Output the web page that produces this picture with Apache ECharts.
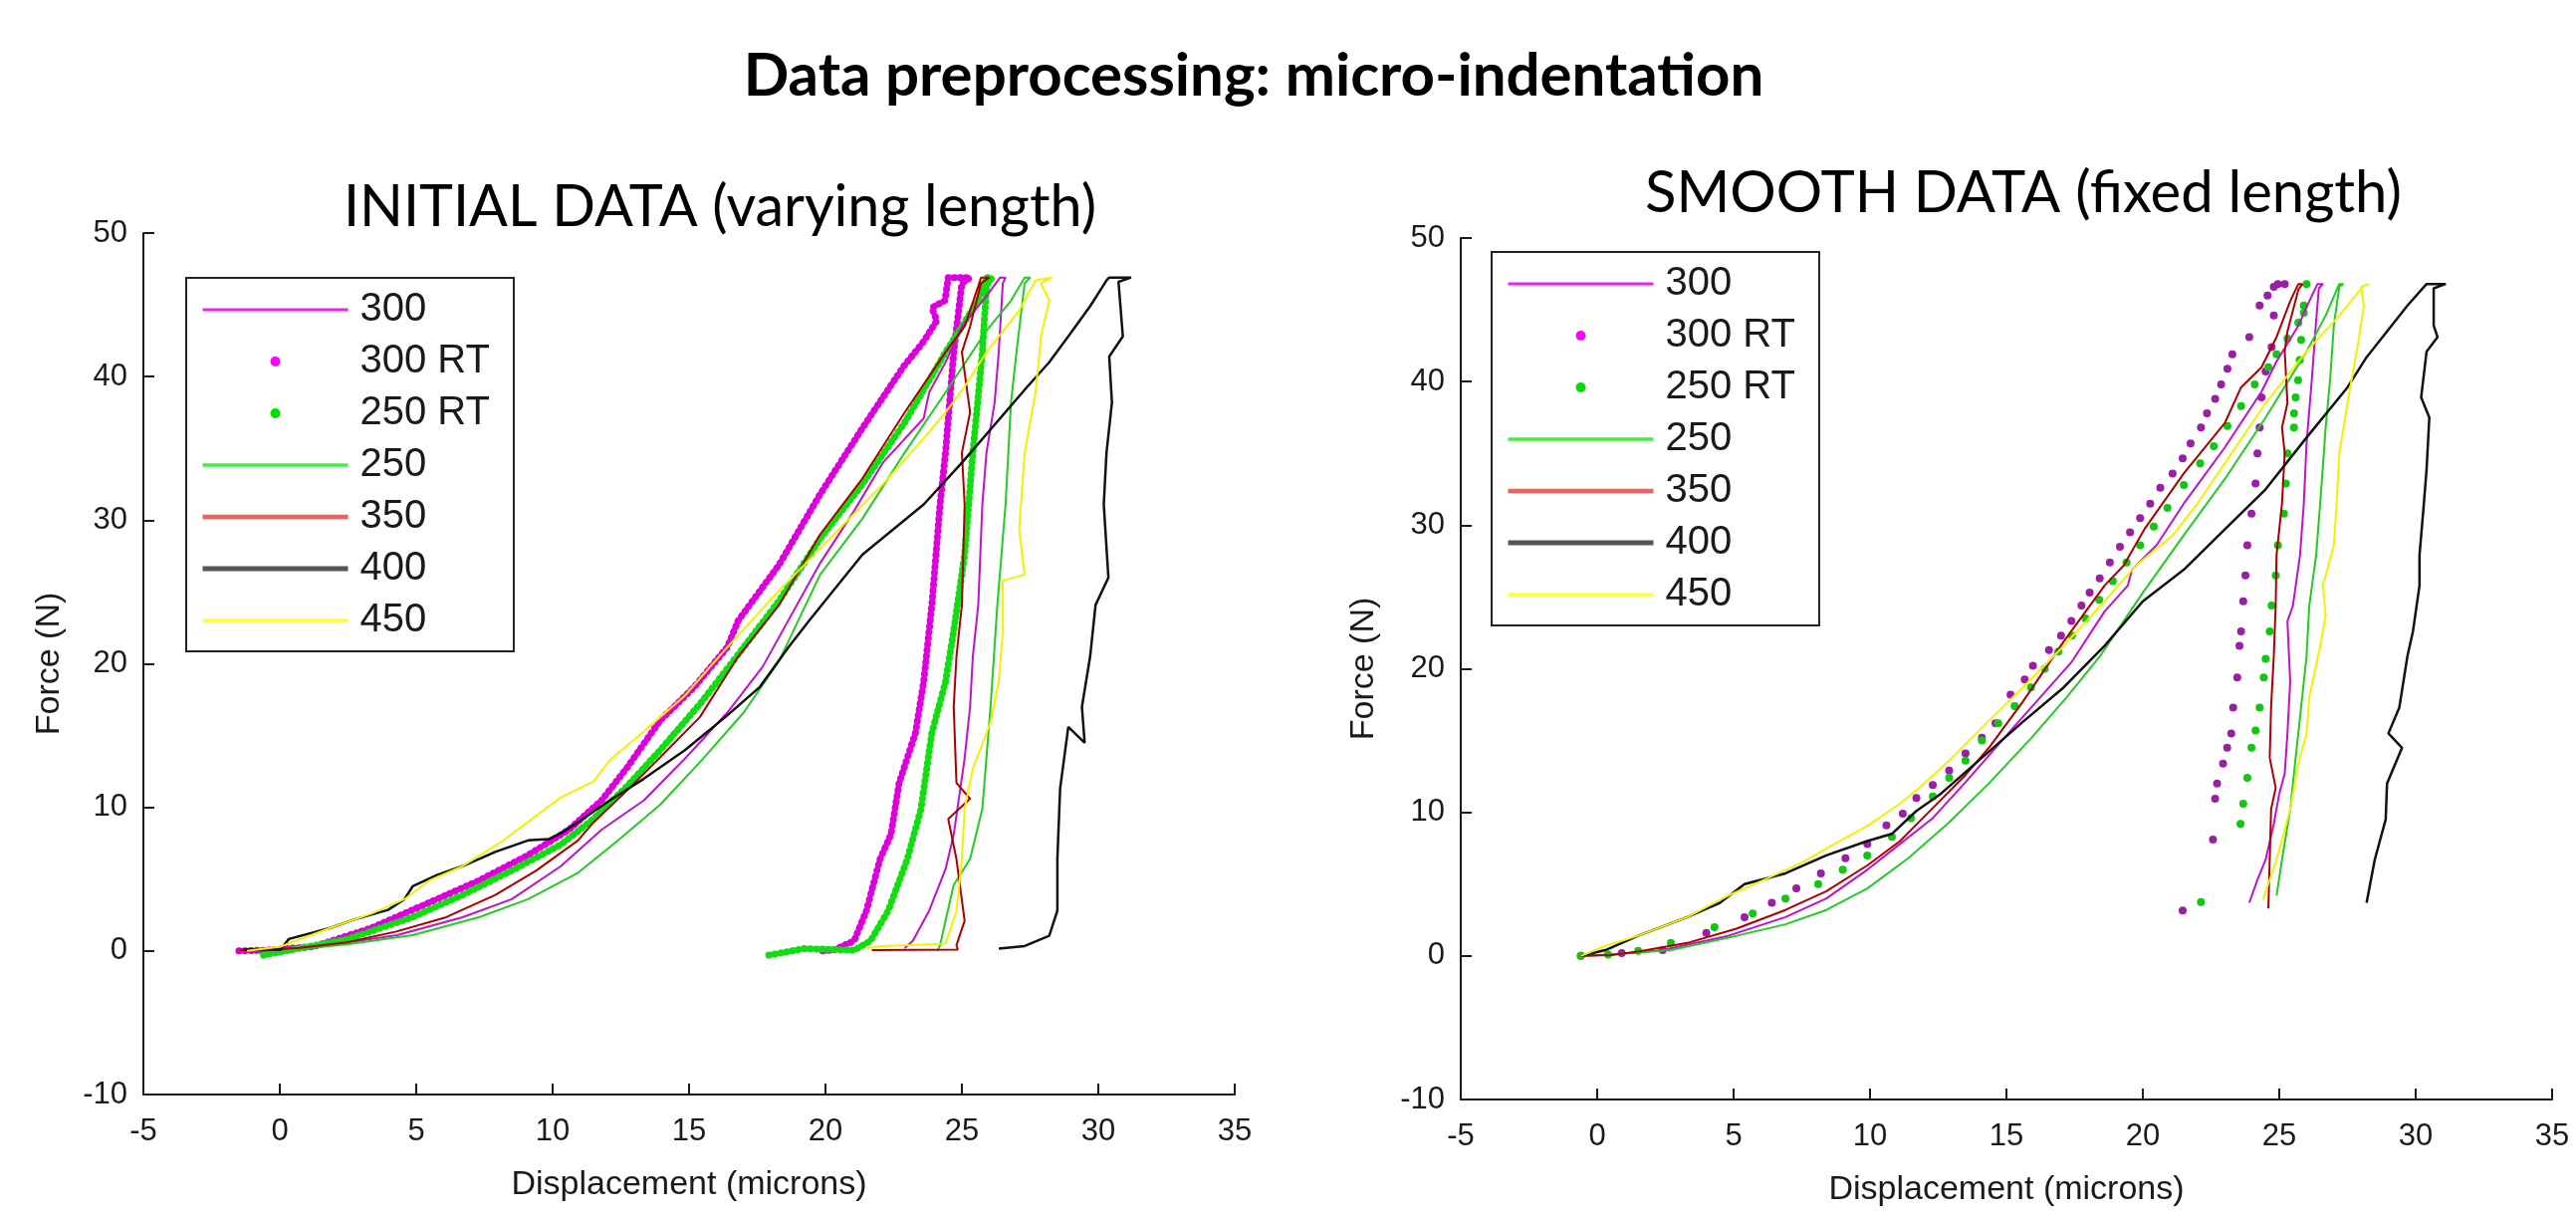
<!DOCTYPE html>
<html><head><meta charset="utf-8">
<script src="https://cdn.jsdelivr.net/npm/echarts@6/dist/echarts.min.js"></script>
<style>html,body{margin:0;padding:0;background:#fff}#c{width:2587px;height:1224px}</style>
</head><body><div id="c"></div>
<script>
// ---------- titles / labels ----------
const MAIN_TITLE = 'Data preprocessing: micro-indentation';
const LEFT_TITLE = 'INITIAL DATA (varying length)';
const RIGHT_TITLE = 'SMOOTH DATA (fixed length)';
const X_NAME = 'Displacement (microns)';
const Y_NAME = 'Force (N)';
const X_TICKS = [-5, 0, 5, 10, 15, 20, 25, 30, 35];
const Y_TICKS = [-10, 0, 10, 20, 30, 40, 50];
const SERIES_NAMES = ['300', '300 RT', '250 RT', '250', '350', '400', '450'];

// ---------- left plot: initial data ----------
const L300 = [[-1.2,0],[-0.3,0.05],[1.0,0.2],[2.5,0.6],[4.3,1.1],[6.7,2.35],[8.5,3.6],[10.3,5.9],[11.8,8.45],[13.35,10.5],[14.9,13.5],[16.4,16.6],[17.7,19.8],[19.8,27.0],[21.0,30.5],[22.1,34],[23.6,37.1],[23.8,38.9],[24.4,41],[25.0,43.5],[25.9,45.6],[26.4,46.9],[26.6,46.9],
  [26.5,46.5],[26.35,41.7],[26.2,38.2],[25.9,34.7],[25.75,31.1],[25.6,24.1],[25.4,20.5],[25.3,17],[25.1,13.4],[24.7,8.1],[24.4,5.7],[23.8,2.8],[23.2,0.7],[22.9,0.2]];
const L300RT = [[-1.5,0],[-0.5,0.05],[1.24,0.3],[3.36,1.6],[5.48,3.37],[7.3,4.9],[9.1,6.67],[10.6,8.45],[11.8,10.5],[12.74,12.8],[13.95,16.07],[15.2,18.4],[16.4,21.15],[16.8,23],[18.3,26.9],[19.8,31.8],[21.35,36.4],[22.86,40.7],[23.6,42.45],[24.08,43.9],[23.9,44.8],[24.38,45.3],[24.5,46.9],[25.3,46.9],
  [25.0,46.5],[24.7,41.7],[24.4,34.7],[24.2,31.1],[23.9,24.1],[23.6,18.75],[23.3,15.2],[22.7,11.7],[22.4,8.1],[22.0,6.4],[21.5,2.8],[21.05,0.7],[20.3,0.06],[19.8,0]];
const L250RT = [[-0.6,-0.3],[0.5,0.1],[2.45,0.8],[4.87,2.35],[6.7,3.9],[8.5,5.6],[10.3,7.4],[11.5,9.2],[12.74,11.5],[13.95,14],[15.4,17.2],[16.7,20.4],[18.3,24.4],[19.8,28.7],[21.35,32.5],[22.9,36.8],[24.4,41.7],[25.6,45.3],[25.9,46.9],[26.1,46.9],
  [25.9,46.3],[25.75,41.7],[25.4,34.7],[25.1,27.6],[24.7,22.3],[24.4,18.75],[23.9,15.2],[23.5,9.9],[23.0,6.4],[22.3,2.8],[21.65,0.7],[21.05,0.05],[19.2,0.16],[18.5,-0.1],[17.9,-0.3]];
const L250 = [[-0.6,-0.3],[0.5,0.1],[2.45,0.45],[4.87,1.1],[7.3,2.35],[9.1,3.6],[10.9,5.4],[12.4,7.7],[13.95,10.2],[15.47,13.3],[17.0,16.6],[18.3,20.2],[19.8,26.2],[21.35,30.1],[22.9,34.7],[24.4,38.9],[25.9,43.2],[26.8,45.3],[27.3,46.9],[27.5,46.9],
  [27.3,46.5],[27.0,41.7],[26.8,38.2],[26.6,31.1],[26.3,24.1],[26.05,17],[25.75,9.9],[25.3,6.4],[24.7,4.6],[24.4,2.1],[24.2,0.4],[24.1,0]];
const L350 = [[-1.5,0.08],[0.64,0.2],[2.45,0.6],[4.27,1.35],[6.1,2.35],[7.9,3.9],[9.4,5.6],[10.93,7.7],[11.5,8.96],[12.74,11.2],[13.95,13.5],[15.4,16.3],[16.8,20.5],[18.3,24.1],[19.8,29],[21.35,32.9],[22.9,37.5],[24.4,41.7],[25.1,43.5],[25.6,46.3],[25.7,46.9],[26.0,46.9],
  [25.7,46.5],[25.3,43.5],[25.0,41.7],[25.3,37.5],[25.0,34.7],[25.1,31.1],[25.0,24.1],[24.8,20.5],[24.7,17],[24.8,11.7],[25.3,10.6],[24.5,9.2],[24.8,6.4],[25.1,2.1],[24.8,0.4],[24.85,0.1],[21.7,0.06]];
const L400 = [[-1.33,0.1],[0.03,0.1],[0.33,0.83],[1.85,1.6],[2.75,2.2],[3.97,2.86],[4.57,3.6],[4.87,4.5],[5.78,5.3],[6.69,5.9],[7.9,6.9],[9.1,7.7],[9.87,7.8],[10.3,8.2],[10.93,8.96],[12.1,10.5],[13.35,12.0],[14.86,14.0],[16.4,16.4],[17.6,18.4],[18.64,21.15],[19.4,23],[21.35,27.6],[23.6,31.1],[25,34],[27.4,39.3],[28.2,41],[28.9,42.8],[29.7,44.9],[30.3,46.7],[30.4,46.9],[31.2,46.9],
  [30.74,46.6],[30.9,42.8],[30.4,41.4],[30.5,38.2],[30.3,34.7],[30.2,31.1],[30.37,26],[29.9,24.1],[29.7,20.5],[29.4,17],[29.5,14.5],[28.9,15.6],[28.6,11.3],[28.5,6.4],[28.5,2.8],[28.2,1.05],[27.3,0.34],[26.35,0.16]];
const L450 = [[-1.2,0],[0.03,0.3],[1.85,1.6],[3.36,2.6],[4.57,3.6],[5.48,4.9],[6.7,5.9],[8.2,7.7],[9.1,9],[10.3,10.7],[11.5,11.8],[12.1,13.3],[13.35,15.3],[14.86,17.8],[16.4,21.15],[18.3,25.1],[19.8,28],[22.1,32.5],[23.6,35.7],[24.4,37.5],[25.1,39.3],[25.9,41.7],[27.1,44.6],[27.7,46.7],[28.3,46.9],
  [27.9,46.5],[28.2,45.3],[27.9,42.8],[27.7,38.9],[27.3,34.7],[27.1,29.4],[27.3,26.2],[26.5,25.8],[26.5,22.3],[26.35,18.75],[26.05,15.9],[25.4,12.7],[25.1,9.9],[25.0,6.4],[24.8,2.8],[24.4,0.5],[22.1,0.34],[21.5,0.2]];

// ---------- right plot: smooth data ----------
const R300 = [[-0.6,0],[0.5,0.1],[2.4,0.4],[4.8,1.4],[6.9,2.7],[8.4,4],[9.9,6],[11.1,7.8],[12.3,9.6],[13.5,12.1],[15.3,16],[17.4,20.5],[18.6,24],[19.45,25.8],[19.6,26.9],[20.5,28.6],[21.5,31.5],[23,35.4],[24.35,39.3],[24.9,41.4],[25.7,43.9],[26.1,45.6],[26.4,46.8],[26.6,46.8],
  [26.45,46.5],[26.35,44.2],[26.2,40.3],[26,35.7],[25.9,31.5],[25.76,27.9],[25.5,24.4],[25.3,23.3],[25.4,19.1],[25.3,15.5],[25.2,12.7],[25,11.3],[24.8,9.2],[24.5,6.7],[24.2,5.3],[23.9,3.7]];
const R300RT = [[-0.6,0],[0.9,0.2],[2.4,0.4],[4.0,1.6],[5.4,2.7],[6.4,3.7],[7.3,4.7],[8.2,5.75],[9.1,6.8],[9.9,7.8],[10.6,9.1],[11.2,9.9],[11.7,11],[12.3,11.9],[12.9,12.9],[13.5,14.1],[14.1,15.2],[14.6,16.2],[15.15,18.2],[15.67,19.26],[15.97,20.2],[16.56,21.3],[17.0,22.3],[17.38,23.33],[17.75,24.4],[18.05,25.3],[18.42,26.3],[18.79,27.4],[19.16,28.5],[19.53,29.5],[19.9,30.5],[20.27,31.5],[20.64,32.6],[21.09,33.6],[21.46,34.65],[21.75,35.7],[22.13,36.8],[22.35,37.8],[22.65,38.8],[22.87,39.8],[23.1,40.9],[23.28,41.9],[23.9,43.1],[24.28,45.3],[24.57,46],[24.8,46.6],[24.95,46.8],[25.2,46.8],
  [24.8,44.6],[24.72,42.4],[24.5,40.7],[24.35,38.9],[24.28,36.8],[24.2,35],[24.13,32.9],[23.98,30.8],[23.83,28.6],[23.76,26.5],[23.68,24.7],[23.6,22.6],[23.54,21.6],[23.46,19.4],[23.31,17.3],[23.24,15.5],[23.09,14.5],[22.94,13.4],[22.72,12.0],[22.65,10.95],[22.57,8.1],[21.46,3.16]];
const R250RT = [[-0.6,0],[0.4,0.1],[1.5,0.35],[2.7,0.9],[4.3,2.0],[5.7,2.95],[6.9,4.0],[8.1,5.0],[9.0,6.0],[9.9,7.0],[10.8,8.3],[11.5,9.6],[12.3,11.1],[12.9,12.4],[13.5,13.6],[14.1,15.0],[14.7,16.2],[15.3,17.4],[15.9,18.7],[16.4,20.0],[16.9,21.2],[17.4,22.3],[17.9,23.5],[18.4,24.8],[18.9,26.1],[19.4,27.4],[19.9,28.6],[20.4,29.9],[20.9,31.2],[21.5,32.8],[22.1,34.3],[22.6,35.5],[23.1,36.9],[23.6,38.3],[24.1,39.8],[24.6,41.0],[24.9,41.9],[25.3,43.0],[25.7,44.1],[25.9,45.3],[26.0,46.8],
  [25.9,44.8],[25.8,42.9],[25.75,41.5],[25.69,40.1],[25.6,38.9],[25.54,37.8],[25.54,36.8],[25.3,35],[25.24,32.9],[25.17,30.8],[24.95,28.6],[24.87,26.5],[24.72,24.4],[24.65,22.6],[24.5,20.7],[24.43,19.4],[24.28,17.3],[24.13,15.7],[23.98,14.5],[23.83,12.4],[23.68,10.6],[23.58,9.2],[22.13,3.76]];
const R250 = [[-0.6,0],[0.5,0.1],[2.7,0.4],[5.1,1.4],[6.9,2.2],[8.4,3.2],[9.9,4.7],[11.4,6.8],[12.9,9.3],[14.4,12.1],[15.9,15.15],[17.2,18],[18.4,20.8],[20,25.3],[21.5,29.3],[23,33.2],[24.5,37.5],[26,42.1],[26.7,44.6],[27.2,46.8],[27.35,46.8],
  [27.2,46.6],[27,43.9],[26.87,40.3],[26.7,36.8],[26.5,31.5],[26.35,27.9],[26.1,24.4],[26,20.9],[25.8,17.3],[25.6,13.8],[25.4,10.2],[25.1,6.7],[24.9,4.2]];
const R350 = [[-0.6,0],[0.5,0.05],[1.5,0.3],[3.3,0.9],[5.1,1.9],[6.9,3.2],[8.4,4.5],[9.9,6.3],[11.1,8],[12.3,10.3],[13.5,12.6],[14.4,14.6],[15.6,17.7],[17.1,21.9],[18.6,25.8],[19.3,27.2],[20.05,29.7],[21.5,33.6],[23,37.1],[23.6,39.6],[24.35,41],[24.9,43.1],[25.4,45.6],[25.7,46.8],[25.85,46.8],
  [25.7,46.4],[25.3,43.5],[25.2,42.1],[25.3,38.5],[25.1,36.8],[25.2,35],[25.1,31.5],[24.9,27.9],[24.87,24.4],[24.8,20.9],[24.7,17.3],[24.65,13.8],[24.87,11.7],[24.7,10.2],[24.65,6.7],[24.6,3.3]];
const R400 = [[-0.6,0],[0.3,0.4],[1.5,1.4],[3.3,2.7],[4.5,3.7],[5.4,5],[6.9,5.75],[8.4,7],[9.9,8],[10.8,8.5],[11.7,10.1],[12.6,11.3],[14.1,13.8],[15.6,16.3],[17.1,18.7],[18.6,21.6],[20,24.7],[21.5,26.9],[23,29.7],[24.5,32.5],[26,36.1],[27.5,39.6],[28.2,41.7],[28.95,43.5],[29.7,45.3],[30.4,46.8],[31.1,46.8],
  [30.66,46.5],[30.66,43.9],[30.8,43.1],[30.4,42.1],[30.2,38.9],[30.5,37.5],[30.4,33.9],[30.3,31.5],[30.14,27.9],[30.14,25.8],[29.9,22.6],[29.7,20.9],[29.4,17.3],[29.0,15.5],[29.5,14.5],[28.95,12],[28.9,9.5],[28.5,6.7],[28.2,3.7]];
const R450 = [[-0.6,0],[0.3,0.7],[1.5,1.4],[3.3,2.7],[4.8,4.2],[6,5.2],[7.5,6.5],[8.7,7.8],[9.9,9.05],[11.1,10.6],[11.8,11.7],[12.9,13.6],[14.1,15.9],[15.6,18.7],[17.1,21.6],[18.6,24.7],[19.75,27.2],[21.1,29.3],[22,31.5],[23,34.3],[24.5,38.5],[26,42.1],[27.2,44.6],[28.1,46.7],[28.3,46.8],
  [28.0,46.6],[28.1,45.3],[27.9,42.8],[27.5,38.5],[27.2,35],[27.1,31.5],[27,28.6],[26.6,25.8],[26.7,23.7],[26.5,21.6],[26.1,18],[26,15.5],[25.7,13.4],[25.4,10.2],[24.9,6.7],[24.4,3.9]];

// ---------- styling ----------
const FONT = 'Liberation Sans';
const TITLE_FONT = 'Lato';
const INK = '#1a1a1a';

function lineSeries(name, data, idx, color, width) {
  return { type: 'line', name, data, xAxisIndex: idx, yAxisIndex: idx, symbol: 'none',
    lineStyle: { color, width }, itemStyle: { color }, z: 3, silent: true };
}
function denseDots(name, data, idx, color) {
  return { type: 'line', name, data, xAxisIndex: idx, yAxisIndex: idx, symbol: 'none',
    lineStyle: { color, width: 7, type: [0.5, 5.5], cap: 'round', join: 'round' }, itemStyle: { color }, z: 2, silent: true };
}
function dotSeries(name, data, idx, color) {
  return { type: 'scatter', name, data, xAxisIndex: idx, yAxisIndex: idx, symbol: 'circle', symbolSize: 8,
    itemStyle: { color, opacity: 1 }, z: 2, silent: true };
}

const HIDE_SYMBOL = { opacity: 0 };
const legendItems = [
  { name: '300', itemStyle: HIDE_SYMBOL, lineStyle: { color: '#ee22ee', width: 3 } },
  { name: '300 RT', icon: 'circle', itemStyle: { color: '#ff00ff' } },
  { name: '250 RT', icon: 'circle', itemStyle: { color: '#00dd00' } },
  { name: '250', itemStyle: HIDE_SYMBOL, lineStyle: { color: '#44ee44', width: 3.5 } },
  { name: '350', itemStyle: HIDE_SYMBOL, lineStyle: { color: '#f06060', width: 4.5 } },
  { name: '400', itemStyle: HIDE_SYMBOL, lineStyle: { color: '#555555', width: 5 } },
  { name: '450', itemStyle: HIDE_SYMBOL, lineStyle: { color: '#ffff33', width: 3.5 } }
];
function legend(left, top) {
  return { left, top, orient: 'vertical', data: legendItems, itemWidth: 146, itemHeight: 10, itemGap: 12,
    padding: [12, 24, 11, 14], borderColor: '#222', borderWidth: 2, backgroundColor: '#fff',
    textStyle: { fontFamily: FONT, fontSize: 40, color: INK, lineHeight: 40, padding: [0, 0, 0, 7] },
    selectedMode: false, z: 10 };
}
function xAxis(gridIndex) {
  return { type: 'value', gridIndex, min: X_TICKS[0], max: X_TICKS[X_TICKS.length - 1], interval: X_TICKS[1] - X_TICKS[0],
    name: X_NAME, nameLocation: 'middle', nameGap: 74,
    nameTextStyle: { fontFamily: FONT, fontSize: 34, color: INK, lineHeight: 34 },
    axisLine: { show: true, onZero: false, lineStyle: { color: INK, width: 2 } },
    axisTick: { show: true, inside: true, length: 11, lineStyle: { color: INK, width: 2 } },
    axisLabel: { fontFamily: FONT, fontSize: 31, color: INK, margin: 22, lineHeight: 31 },
    splitLine: { show: false } };
}
function yAxis(gridIndex, gap) {
  return { type: 'value', gridIndex, min: Y_TICKS[0], max: Y_TICKS[Y_TICKS.length - 1], interval: Y_TICKS[1] - Y_TICKS[0],
    name: Y_NAME, nameLocation: 'middle', nameGap: gap,
    nameTextStyle: { fontFamily: FONT, fontSize: 34, color: INK, lineHeight: 34 },
    axisLine: { show: true, onZero: false, lineStyle: { color: INK, width: 2 } },
    axisTick: { show: true, inside: true, length: 11, lineStyle: { color: INK, width: 2 } },
    axisLabel: { fontFamily: FONT, fontSize: 31, color: INK, margin: 16 },
    splitLine: { show: false } };
}

const chart = echarts.init(document.getElementById('c'), null, { renderer: 'canvas' });
chart.setOption({
  animation: false,
  backgroundColor: '#fff',
  title: [
    { text: MAIN_TITLE, left: 1259, top: 47, textAlign: 'center', padding: 0,
      textStyle: { fontFamily: TITLE_FONT, fontWeight: 'bold', fontSize: 60, lineHeight: 60, color: '#000' } },
    { text: LEFT_TITLE, left: 723, top: 180, textAlign: 'center', padding: 0,
      textStyle: { fontFamily: TITLE_FONT, fontWeight: 'normal', fontSize: 57.5, lineHeight: 57.5, color: '#000' } },
    { text: RIGHT_TITLE, left: 2032, top: 165, textAlign: 'center', padding: 0,
      textStyle: { fontFamily: TITLE_FONT, fontWeight: 'normal', fontSize: 58, lineHeight: 58, color: '#000' } }
  ],
  grid: [
    { left: 144, top: 234, width: 1096, height: 865 },
    { left: 1467, top: 239, width: 1096, height: 865 }
  ],
  xAxis: [xAxis(0), xAxis(1)],
  yAxis: [yAxis(0, 77), yAxis(1, 80)],
  legend: [legend(187, 279), legend(1498, 253)],
  series: [
    lineSeries('300', L300, 0, '#c010d0', 2),
    denseDots('300 RT', L300RT, 0, '#dd00dd'),
    denseDots('250 RT', L250RT, 0, '#11dd11'),
    lineSeries('250', L250, 0, '#22cc22', 2),
    lineSeries('350', L350, 0, '#aa0000', 2),
    lineSeries('400', L400, 0, '#111111', 2.5),
    lineSeries('450', L450, 0, '#f2f200', 2),
    lineSeries('300', R300, 1, '#c010d0', 2),
    dotSeries('300 RT', R300RT, 1, '#9a1ea6'),
    dotSeries('250 RT', R250RT, 1, '#12c712'),
    lineSeries('250', R250, 1, '#22cc22', 2),
    lineSeries('350', R350, 1, '#aa0000', 2),
    lineSeries('400', R400, 1, '#111111', 2.5),
    lineSeries('450', R450, 1, '#f2f200', 2)
  ]
});
</script></body></html>
